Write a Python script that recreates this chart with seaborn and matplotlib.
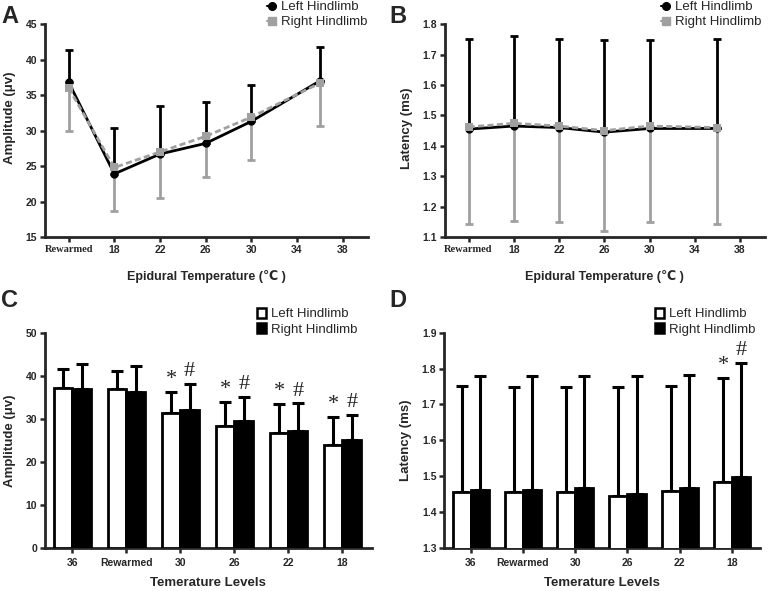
import numpy as np
import pandas as pd
import matplotlib
matplotlib.use('Agg')
import matplotlib.pyplot as plt
import seaborn as sns
from matplotlib.lines import Line2D
from matplotlib.patches import Patch

sns.set_style('ticks')
plt.rcParams['font.family'] = ['Liberation Sans', 'DejaVu Sans']

# Panels A/B: Rewarmed is drawn at position 14 on the temperature axis
temp_pos = [14, 18, 22, 26, 30, 36]
temp_ticks = [14, 18, 22, 26, 30, 34, 38]
temp_ticklabels = ['Rewarmed', '18', '22', '26', '30', '34', '38']

amp_left = [36.8, 23.9, 26.7, 28.2, 31.3, 37.0]
amp_left_sd = [4.5, 6.5, 6.7, 5.8, 5.2, 4.8]
amp_right = [36.0, 24.8, 27.0, 29.2, 31.9, 36.7]
amp_right_sd = [6.1, 6.1, 6.5, 5.8, 6.1, 6.1]

lat_left = [1.455, 1.465, 1.460, 1.445, 1.457, 1.457]
lat_left_sd = [0.295, 0.295, 0.292, 0.303, 0.292, 0.295]
lat_right = [1.462, 1.474, 1.465, 1.450, 1.465, 1.460]
lat_right_sd = [0.319, 0.322, 0.317, 0.330, 0.315, 0.317]

# Panels C/D
levels = ['36', 'Rewarmed', '30', '26', '22', '18']
c_left = [37.1, 36.9, 31.3, 28.4, 26.7, 24.0]
c_left_sd = [4.5, 4.3, 5.0, 5.5, 6.7, 6.4]
c_right = [36.9, 36.2, 32.1, 29.4, 27.2, 25.0]
c_right_sd = [5.9, 6.1, 6.0, 5.6, 6.4, 5.9]
c_marks = [False, False, True, True, True, True]

d_left = [1.456, 1.456, 1.456, 1.444, 1.459, 1.484]
d_left_sd = [0.296, 0.294, 0.293, 0.305, 0.293, 0.291]
d_right = [1.462, 1.462, 1.466, 1.451, 1.467, 1.497]
d_right_sd = [0.316, 0.316, 0.312, 0.329, 0.314, 0.318]
d_marks = [False, False, False, False, False, True]

sides = ['Left Hindlimb', 'Right Hindlimb']
gray = '#a0a0a0'

fig = plt.figure(figsize=(7.71, 5.91), dpi=100)
axA = fig.add_axes([0.058, 0.599, 0.419, 0.360])
axB = fig.add_axes([0.577, 0.599, 0.415, 0.360])
axC = fig.add_axes([0.058, 0.073, 0.424, 0.364])
axD = fig.add_axes([0.576, 0.073, 0.410, 0.364])


def style_axis(ax, pad=2):
    sns.despine(ax=ax)
    for s in ['left', 'bottom']:
        ax.spines[s].set_linewidth(2)
    ax.tick_params(direction='out', length=3.5, width=1.8, labelsize=7.5, pad=2)
    ax.tick_params(axis='x', pad=pad)
    for lab in ax.get_xticklabels() + ax.get_yticklabels():
        lab.set_fontweight('bold')


def line_panel(ax, left, left_sd, right, right_sd, ylim, yticks, fmt, ylabel, label_y):
    df = pd.DataFrame({'pos': temp_pos * 2,
                       'val': left + right,
                       'side': [sides[0]] * 6 + [sides[1]] * 6})
    ax.errorbar(temp_pos, left, yerr=[np.zeros(6), left_sd], fmt='none',
                ecolor='black', elinewidth=2, capsize=3, capthick=2, zorder=2)
    ax.errorbar(temp_pos, right, yerr=[right_sd, np.zeros(6)], fmt='none',
                ecolor=gray, elinewidth=2, capsize=3, capthick=2, zorder=2)
    sns.lineplot(data=df, x='pos', y='val', hue='side', style='side',
                 palette=['black', gray], markers=['o', 's'],
                 dashes=[(1, 0), (2.2, 1.2)], linewidth=2, markersize=6,
                 markeredgewidth=0, legend=False, ax=ax, zorder=3)
    ax.set_xlim(11.9, 40.2)
    ax.set_ylim(*ylim)
    ax.set_xticks(temp_ticks)
    ax.set_xticklabels(temp_ticklabels)
    ax.set_yticks(yticks)
    ax.set_yticklabels([fmt.format(v) for v in yticks])
    ax.set_xlabel('Epidural Temperature (℃ )', fontsize=9, fontweight='bold', labelpad=11)
    ax.set_ylabel(ylabel, fontsize=9.5, fontweight='bold', labelpad=7)
    ax.yaxis.label.set_y(label_y)
    style_axis(ax)
    rew = ax.get_xticklabels()[0]
    rew.set_fontfamily('Liberation Serif')
    rew.set_fontsize(7.5)


def bar_panel(ax, left, left_sd, right, right_sd, marks, ylim, yticks, fmt, ylabel):
    df = pd.DataFrame({'level': levels * 2,
                       'val': left + right,
                       'side': [sides[0]] * 6 + [sides[1]] * 6})
    sns.barplot(data=df, x='level', y='val', hue='side', order=levels,
                palette=['white', 'black'], edgecolor='black', linewidth=2,
                width=0.69, legend=False, ax=ax, zorder=3)
    for cont, sd in zip(ax.containers, [left_sd, right_sd]):
        xs = [b.get_x() + b.get_width() / 2 for b in cont]
        hs = [b.get_height() for b in cont]
        ax.errorbar(xs, hs, yerr=[np.zeros(6), sd], fmt='none', ecolor='black',
                    elinewidth=2.2, capsize=4.5, capthick=2.2, zorder=2)
        sym = '*' if cont is ax.containers[0] else '#'
        for x, h, s, m in zip(xs, hs, sd, marks):
            if m:
                ax.annotate(sym, (x, h + s), xytext=(0, 2), textcoords='offset points',
                            ha='center', va='bottom', fontsize=16,
                            fontfamily='Liberation Serif')
    ax.set_xlim(-0.51, 5.54)
    ax.set_ylim(*ylim)
    ax.set_yticks(yticks)
    ax.set_yticklabels([fmt.format(v) for v in yticks])
    ax.set_xlabel('Temerature Levels', fontsize=9.5, fontweight='bold', labelpad=7)
    ax.set_ylabel(ylabel, fontsize=9.5, fontweight='bold', labelpad=7)
    style_axis(ax, pad=3.5)


line_panel(axA, amp_left, amp_left_sd, amp_right, amp_right_sd,
           (15, 45), np.arange(15, 46, 5), '{:.0f}', 'Amplitude (μv)', 0.56)
line_panel(axB, lat_left, lat_left_sd, lat_right, lat_right_sd,
           (1.1, 1.8), np.round(np.arange(1.1, 1.81, 0.1), 1), '{:.1f}', 'Latency (ms)', 0.51)
bar_panel(axC, c_left, c_left_sd, c_right, c_right_sd, c_marks,
          (0, 50), np.arange(0, 51, 10), '{:.0f}', 'Amplitude (μv)')
bar_panel(axD, d_left, d_left_sd, d_right, d_right_sd, d_marks,
          (1.3, 1.9), np.round(np.arange(1.3, 1.91, 0.1), 1), '{:.1f}', 'Latency (ms)')

# legends
line_handles = [Line2D([], [], color='black', marker='o', markersize=5.5, lw=1.5),
                Line2D([], [], color=gray, marker='s', markersize=5.5, lw=1.5)]
bar_handles = [Patch(facecolor='white', edgecolor='black', linewidth=1.8),
               Patch(facecolor='black', edgecolor='black', linewidth=1.8)]
leg_kw = dict(frameon=False, fontsize=9.5, borderpad=0, borderaxespad=0,
              labelspacing=0.22, handletextpad=0.35, handlelength=0.7, loc='upper left')
fig.legend(line_handles, sides, bbox_to_anchor=(267 / 771, 1 - 1 / 591), **leg_kw)
fig.legend(line_handles, sides, bbox_to_anchor=(661 / 771, 1 - 1 / 591), **leg_kw)
fig.legend(bar_handles, sides, bbox_to_anchor=(257 / 771, 1 - 308 / 591),
           handleheight=0.75, **leg_kw)
fig.legend(bar_handles, sides, bbox_to_anchor=(655 / 771, 1 - 308 / 591),
           handleheight=0.75, **leg_kw)

# panel letters
for x, y, letter in [(1, 23, 'A'), (389, 23, 'B'), (1, 307, 'C'), (389, 307, 'D')]:
    fig.text(x / 771, 1 - y / 591, letter, fontsize=17, fontweight='bold',
             va='baseline', ha='left')

fig.savefig('out.png', dpi=100)
